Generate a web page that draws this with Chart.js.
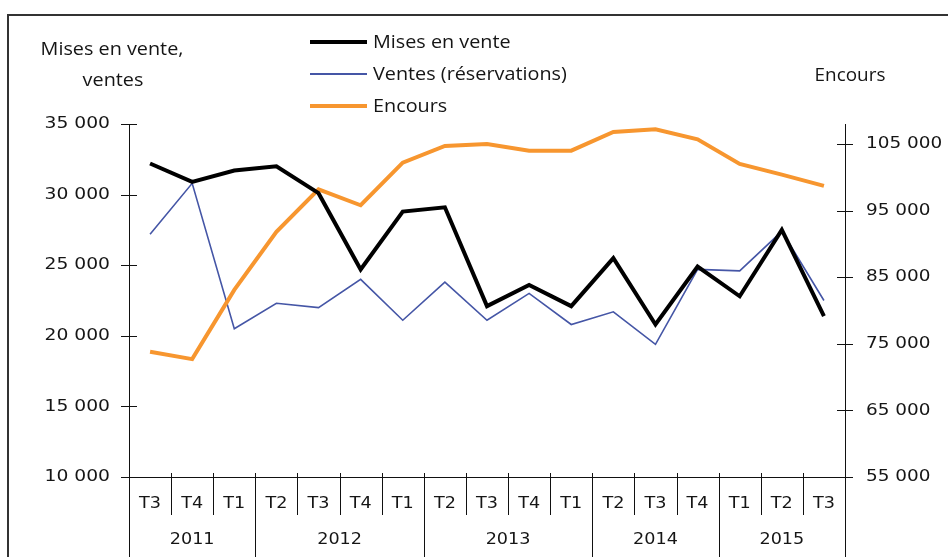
<!DOCTYPE html>
<html>
<head>
<meta charset="utf-8">
<script src="https://cdn.jsdelivr.net/npm/chart.js@4.4.1/dist/chart.umd.min.js"></script>
<style>
    html, body { margin: 0; padding: 0; background: #fff; }
    canvas { display: block; }
</style>
</head>
<body>
<canvas id="chart" width="948" height="557"></canvas>
<script>
const quarters = ['T3', 'T4', 'T1', 'T2', 'T3', 'T4', 'T1', 'T2', 'T3', 'T4', 'T1', 'T2', 'T3', 'T4', 'T1', 'T2', 'T3'];
const years = ['2011', '2012', '2013', '2014', '2015'];
const yearSpans = [3, 4, 4, 3, 3]; // nb de trimestres sous chaque année (comme sur l'original)

const misesEnVente = [32200, 30900, 31700, 32000, 30100, 24700, 28800, 29100, 22100, 23600, 22100, 25500, 20800, 24900, 22800, 27500, 21400];
const ventes = [27200, 30800, 20500, 22300, 22000, 24000, 21100, 23800, 21100, 23000, 20800, 21700, 19400, 24700, 24600, 27400, 22500];
const encours = [73800, 72700, 83100, 91800, 98200, 95800, 102200, 104700, 105000, 104000, 104000, 106800, 107200, 105700, 102000, 100400, 98700];

const leftTicks = [10000, 15000, 20000, 25000, 30000, 35000];
const rightTicks = [55000, 65000, 75000, 85000, 95000, 105000];

const seriesNames = ['Mises en vente', 'Ventes (réservations)', 'Encours'];
const colors = ['#000000', '#4556a6', '#f7962f'];

const fmt = v => v.toLocaleString('fr-FR').replace(/\s/g, ' ');

// texte un peu étiré en largeur, comme l'image d'origine
function drawText(ctx, txt, x, y, align, font, sx) {
    ctx.save();
    ctx.font = font;
    ctx.fillStyle = '#151515';
    ctx.textBaseline = 'middle';
    ctx.textAlign = align;
    ctx.translate(x, y);
    ctx.scale(sx, 1);
    ctx.fillText(txt, 0, 0);
    ctx.restore();
}

const decorPlugin = {
    id: 'decor',
    afterDatasetsDraw(chart) {
        const ctx = chart.ctx;
        const area = chart.chartArea;
        const x = chart.scales.x;
        const yl = chart.scales.y;
        const yr = chart.scales.y2;
        const H = chart.height;
        const numFont = '16px "DejaVu Sans"';
        const txtFont = '18px "Open Sans"';

        ctx.save();
        // cadre
        ctx.strokeStyle = '#333';
        ctx.lineWidth = 2;
        ctx.beginPath();
        ctx.moveTo(8, H);
        ctx.lineTo(8, 15);
        ctx.lineTo(chart.width, 15);
        ctx.stroke();

        ctx.strokeStyle = '#111';
        ctx.lineWidth = 1;
        ctx.beginPath();
        // axes verticaux
        ctx.moveTo(area.left + 0.5, area.top);
        ctx.lineTo(area.left + 0.5, H);
        ctx.moveTo(area.right + 0.5, area.top);
        ctx.lineTo(area.right + 0.5, H);
        // axe horizontal
        ctx.moveTo(area.left - 8, area.bottom + 0.5);
        ctx.lineTo(area.right + 8, area.bottom + 0.5);
        // graduations
        leftTicks.forEach(v => {
            const py = Math.round(yl.getPixelForValue(v)) + 0.5;
            ctx.moveTo(area.left - 8, py);
            ctx.lineTo(area.left + 8, py);
        });
        rightTicks.forEach(v => {
            const py = Math.round(yr.getPixelForValue(v)) + 0.5;
            ctx.moveTo(area.right - 8, py);
            ctx.lineTo(area.right + 8, py);
        });
        // séparateurs de trimestres / années
        let bounds = [];
        let acc = 0;
        yearSpans.forEach(n => { acc += n; bounds.push(acc); });
        for (let i = 1; i < quarters.length; i++) {
            const px = Math.round((x.getPixelForValue(i - 1) + x.getPixelForValue(i)) / 2) + 0.5;
            ctx.moveTo(px, area.bottom - 4);
            ctx.lineTo(px, bounds.includes(i) ? H : area.bottom + 38);
        }
        ctx.stroke();
        ctx.restore();

        leftTicks.forEach(v => drawText(ctx, fmt(v), 110, yl.getPixelForValue(v), 'right', numFont, 1.17));
        rightTicks.forEach(v => drawText(ctx, fmt(v), 866, yr.getPixelForValue(v), 'left', numFont, 1.15));

        quarters.forEach((q, i) => drawText(ctx, q, x.getPixelForValue(i), area.bottom + 27, 'center', numFont, 1.1));
        let start = 0;
        years.forEach((yy, k) => {
            const end = start + yearSpans[k] - 1;
            const cx = (x.getPixelForValue(start) + x.getPixelForValue(end)) / 2;
            drawText(ctx, yy, cx, area.bottom + 63, 'center', numFont, 1.1);
            start = end + 1;
        });

        // titres des axes
        drawText(ctx, 'Mises en vente,', 112, 50, 'center', txtFont, 1.1);
        drawText(ctx, 'ventes', 113, 81, 'center', txtFont, 1.1);
        drawText(ctx, 'Encours', 850, 76, 'center', txtFont, 1.05);

        // légende
        const widths = [4, 2, 4];
        seriesNames.forEach((name, i) => {
            const ly = 42 + i * 32;
            ctx.save();
            ctx.strokeStyle = colors[i];
            ctx.lineWidth = widths[i];
            ctx.beginPath();
            ctx.moveTo(310, ly);
            ctx.lineTo(367, ly);
            ctx.stroke();
            ctx.restore();
            drawText(ctx, name, 373, ly + 1, 'left', txtFont, 1.1);
        });
    }
};

new Chart(document.getElementById('chart'), {
    type: 'line',
    data: {
        labels: quarters,
        datasets: [{
            label: seriesNames[0],
            data: misesEnVente,
            borderColor: colors[0],
            borderWidth: 4,
            yAxisID: 'y',
            order: 0
        }, {
            label: seriesNames[1],
            data: ventes,
            borderColor: colors[1],
            borderWidth: 1.6,
            yAxisID: 'y',
            order: 2
        }, {
            label: seriesNames[2],
            data: encours,
            borderColor: colors[2],
            borderWidth: 4,
            yAxisID: 'y2',
            order: 1
        }]
    },
    options: {
        responsive: false,
        animation: false,
        devicePixelRatio: 1,
        layout: {
            padding: { left: 129, right: 103, top: 124, bottom: 80 }
        },
        elements: {
            line: { tension: 0, borderJoinStyle: 'miter', fill: false },
            point: { radius: 0, hoverRadius: 0 }
        },
        scales: {
            x: { display: false, offset: true },
            y: { display: false, min: 10000, max: 35000 },
            y2: { display: false, min: 55000, max: 108000 }
        },
        plugins: {
            legend: { display: false },
            tooltip: { enabled: false }
        }
    },
    plugins: [decorPlugin]
});
</script>
</body>
</html>
